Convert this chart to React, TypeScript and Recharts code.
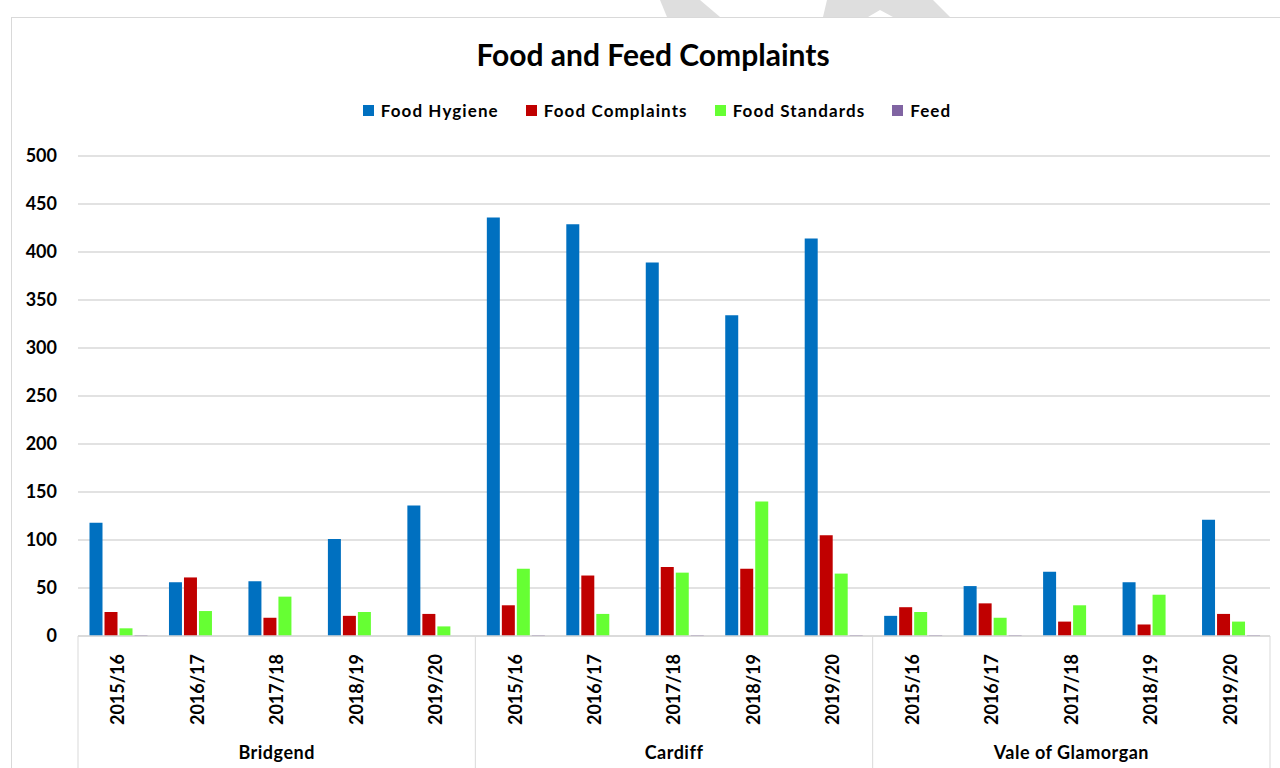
import React from 'react';
import { BarChart, Bar, XAxis, YAxis, CartesianGrid } from 'recharts';

const regions = ['Bridgend', 'Cardiff', 'Vale of Glamorgan'];
const years = ['2015/16', '2016/17', '2017/18', '2018/19', '2019/20'];

// one entry per region, five years each
const foodHygiene = [
  [118, 56, 57, 101, 136],
  [436, 429, 389, 334, 414],
  [21, 52, 67, 56, 121],
];
const foodComplaints = [
  [25, 61, 19, 21, 23],
  [32, 63, 72, 70, 105],
  [30, 34, 15, 12, 23],
];
const foodStandards = [
  [8, 26, 41, 25, 10],
  [70, 23, 66, 140, 65],
  [25, 19, 32, 43, 15],
];
const feed = [
  [1, 0, 0, 0, 0],
  [1, 0, 1, 0, 1],
  [1, 1, 0, 0, 1],
];

const yTicks = [0, 50, 100, 150, 200, 250, 300, 350, 400, 450, 500];

const series = [
  { key: 'hygiene', name: 'Food Hygiene', color: '#0070C0' },
  { key: 'complaints', name: 'Food Complaints', color: '#C00000' },
  { key: 'standards', name: 'Food Standards', color: '#66FF33' },
  { key: 'feed', name: 'Feed', color: '#8064A2' },
];

const data = regions.flatMap((region, r) =>
  years.map((year, i) => ({
    id: `${region}-${year}`,
    region,
    year,
    hygiene: foodHygiene[r][i],
    complaints: foodComplaints[r][i],
    standards: foodStandards[r][i],
    feed: feed[r][i],
  }))
);

const FONT = 'Lato, "Open Sans", sans-serif';
const W = 1280;
const H = 768;
const LEFT = 78;
const RIGHT = 10;
const GRID = '#d9d9d9';

const CategoryTick = (props: any) => {
  const { x, y, index } = props;
  const d = data[index];
  if (!d) return null;
  const band = (W - LEFT - RIGHT) / data.length;
  const ty = y + 18;
  return (
    <g>
      <text
        x={x}
        y={ty}
        dy="0.36em"
        transform={`rotate(-90 ${x} ${ty})`}
        textAnchor="end"
        fontFamily={FONT}
        fontWeight={700}
        fontSize={18}
        fill="#000"
      >
        {d.year}
      </text>
      {index % years.length === 2 && (
        <text
          x={x}
          y={y + 117}
          dy="0.36em"
          textAnchor="middle"
          fontFamily={FONT}
          fontWeight={700}
          fontSize={18}
          letterSpacing={0.5}
          fill="#000"
        >
          {d.region}
        </text>
      )}
      {index % years.length === 0 && (
        <line x1={x - band / 2} x2={x - band / 2} y1={y} y2={y + 140} stroke={GRID} />
      )}
      {index === data.length - 1 && (
        <line x1={x + band / 2} x2={x + band / 2} y1={y} y2={y + 140} stroke={GRID} />
      )}
    </g>
  );
};

const App = () => {
  return (
    <div
      style={{
        position: 'absolute',
        left: 0,
        top: 0,
        width: W,
        height: H,
        overflow: 'hidden',
        background: '#fff',
      }}
    >
      {/* watermark remnants at the top */}
      <svg width={W} height={20} style={{ position: 'absolute', left: 0, top: 0 }}>
        <polygon points="660,0 700,0 720,17 667,17" fill="#dedede" />
        <polygon points="827,0 933,0 950,17 893,17 880,10 868,17 823,17" fill="#dedede" />
      </svg>
      <div
        style={{
          position: 'absolute',
          left: 11,
          top: 17,
          width: W,
          height: H,
          border: `1px solid ${GRID}`,
        }}
      />
      <div
        style={{
          position: 'absolute',
          top: 36,
          left: 0,
          width: 1306,
          textAlign: 'center',
          fontFamily: FONT,
          fontWeight: 700,
          fontSize: 30,
          color: '#000',
        }}
      >
        Food and Feed Complaints
      </div>
      <div
        style={{
          position: 'absolute',
          top: 100,
          left: 0,
          width: 1314,
          display: 'flex',
          justifyContent: 'center',
          gap: 27,
          fontFamily: FONT,
          fontWeight: 700,
          fontSize: 17,
          letterSpacing: 1.1,
          color: '#000',
        }}
      >
        {series.map((s) => (
          <div key={s.key} style={{ display: 'flex', alignItems: 'center' }}>
            <span style={{ width: 11, height: 11, background: s.color, marginRight: 7 }} />
            {s.name}
          </div>
        ))}
      </div>
      <div style={{ position: 'absolute', left: 0, top: 0 }}>
        <BarChart
          width={W}
          height={H}
          data={data}
          margin={{ top: 156, right: RIGHT, bottom: 0, left: 0 }}
          barCategoryGap={11.5}
          barGap={2}
        >
          <CartesianGrid vertical={false} stroke={GRID} strokeWidth={1.3} />
          <XAxis
            dataKey="id"
            height={132}
            interval={0}
            tickLine={false}
            tickSize={0}
            tickMargin={0}
            axisLine={{ stroke: GRID, strokeWidth: 1.3 }}
            tick={<CategoryTick />}
          />
          <YAxis
            width={LEFT}
            domain={[0, 500]}
            ticks={yTicks}
            axisLine={false}
            tickLine={false}
            tickSize={0}
            tickMargin={21}
            tick={{ fill: '#000', fontFamily: FONT, fontWeight: 700, fontSize: 18 }}
          />
          {series.map((s) => (
            <Bar key={s.key} dataKey={s.key} name={s.name} fill={s.color} isAnimationActive={false} />
          ))}
        </BarChart>
      </div>
    </div>
  );
};

export default App;
